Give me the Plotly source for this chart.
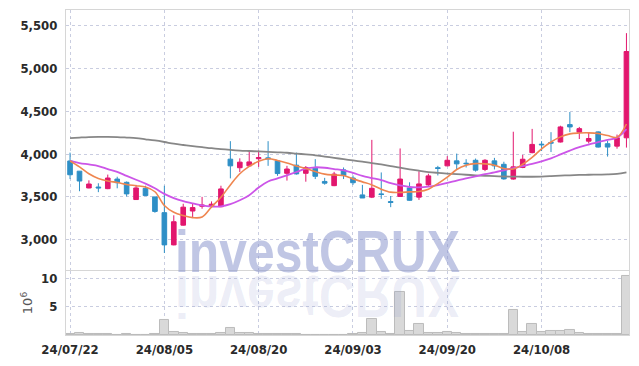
import plotly.graph_objects as go

# ---------------- data ----------------
dates = [
    "2024-07-22", "2024-07-23", "2024-07-24", "2024-07-25", "2024-07-26",
    "2024-07-29", "2024-07-30", "2024-07-31", "2024-08-01", "2024-08-02",
    "2024-08-05", "2024-08-06", "2024-08-07", "2024-08-08", "2024-08-09",
    "2024-08-12", "2024-08-13", "2024-08-14", "2024-08-16", "2024-08-19",
    "2024-08-20", "2024-08-21", "2024-08-22", "2024-08-23", "2024-08-26",
    "2024-08-27", "2024-08-28", "2024-08-29", "2024-08-30", "2024-09-02",
    "2024-09-03", "2024-09-04", "2024-09-05", "2024-09-06", "2024-09-09",
    "2024-09-10", "2024-09-11", "2024-09-12", "2024-09-13", "2024-09-19",
    "2024-09-20", "2024-09-23", "2024-09-24", "2024-09-25", "2024-09-26",
    "2024-09-27", "2024-09-30", "2024-10-02", "2024-10-04", "2024-10-07",
    "2024-10-08", "2024-10-10", "2024-10-11", "2024-10-14", "2024-10-15",
    "2024-10-16", "2024-10-17", "2024-10-18", "2024-10-21", "2024-10-22",
]
opens = [3919, 3800, 3604, 3615, 3596, 3708, 3670, 3469, 3600, 3500,
         3316, 2940, 3170, 3335, 3390, 3395, 3385, 3940, 3840, 3862,
         3945, 3955, 3920, 3775, 3870, 3775, 3835, 3680, 3631, 3815,
         3720, 3523, 3497, 3535, 3445, 3505, 3605, 3497, 3640, 3840,
         3862, 3920, 3893, 3927, 3820, 3920, 3880, 3708, 3843, 4016,
         4115, 4133, 4140, 4343, 4254, 4150, 4258, 4120, 4092, 4189]
highs = [4016, 3800, 3693, 3659, 3760, 3735, 3680, 3640, 3630, 3500,
         3630, 3285, 3420, 3420, 3500, 3447, 3630, 4150, 3950, 4040,
         4040, 4150, 3925, 3862, 4016, 3860, 3940, 3722, 3792, 3843,
         3750, 3640, 4165, 3785, 3510, 4065, 3670, 3800, 3770, 3862,
         3975, 4005, 3940, 3947, 3940, 3955, 3910, 4260, 3990, 4293,
         4150, 4255, 4330, 4490, 4316, 4254, 4265, 4155, 4227, 5410]
lows = [3708, 3566, 3600, 3555, 3590, 3600, 3505, 3465, 3510, 3315,
        2845, 2935, 3165, 3255, 3362, 3370, 3380, 3716, 3790, 3860,
        3850, 3862, 3746, 3690, 3760, 3677, 3708, 3642, 3625, 3708,
        3640, 3487, 3486, 3477, 3380, 3500, 3455, 3465, 3630, 3750,
        3858, 3820, 3843, 3795, 3800, 3820, 3700, 3700, 3835, 4008,
        4035, 4023, 4135, 4255, 4175, 4123, 4075, 3970, 4062, 4075]
closes = [3758, 3685, 3650, 3605, 3720, 3665, 3535, 3604, 3515, 3330,
          2940, 3210, 3380, 3375, 3405, 3415, 3593, 3862, 3905, 3908,
          3958, 3945, 3772, 3825, 3768, 3843, 3740, 3660, 3766, 3748,
          3665, 3487, 3600, 3528, 3435, 3708, 3460, 3651, 3745, 3832,
          3927, 3885, 3887, 3812, 3927, 3862, 3710, 3850, 3939, 4112,
          4108, 4128, 4316, 4316, 4296, 4181, 4081, 4081, 4189, 5196]
volume_m = [0.2, 0.4, 0.15, 0.15, 0.15, 0.05, 0.2, 0.05, 0.05, 0.2,
            2.6, 0.6, 0.45, 0.2, 0.2, 0.2, 0.4, 1.2, 0.3, 0.4,
            0.2, 0.2, 0.2, 0.15, 0.15, 0.05, 0.03, 0.03, 0.03, 0.03,
            0.15, 0.3, 2.9, 0.6, 0.15, 7.6, 0.8, 2.05, 0.4, 0.4,
            0.6, 0.45, 0.2, 0.2, 0.2, 0.2, 0.2, 4.5, 0.6, 2.05,
            0.6, 0.65, 0.8, 0.95, 0.45, 0.2, 0.2, 0.2, 0.2, 10.5]
ma_short = [3919, 3850, 3770, 3715, 3685, 3668, 3645, 3630, 3615, 3560,
            3400, 3320, 3282, 3258, 3265, 3382, 3495, 3640, 3770, 3855,
            3915, 3945, 3925, 3895, 3860, 3830, 3795, 3765, 3755, 3750,
            3710, 3675, 3640, 3590, 3555, 3552, 3558, 3562, 3590, 3655,
            3730, 3820, 3870, 3888, 3885, 3870, 3830, 3825, 3880, 3960,
            4060, 4140, 4200, 4235, 4245, 4247, 4240, 4215, 4195, 4350]
ma_mid = [3919, 3895, 3878, 3860, 3825, 3792, 3745, 3700, 3655, 3600,
          3535, 3485, 3450, 3425, 3400, 3388, 3390, 3415, 3460, 3520,
          3610, 3680, 3715, 3750, 3790, 3830, 3845, 3840, 3825, 3810,
          3780, 3745, 3720, 3695, 3660, 3635, 3615, 3612, 3620, 3638,
          3662, 3690, 3715, 3740, 3765, 3785, 3810, 3835, 3860, 3885,
          3915, 3950, 3995, 4040, 4080, 4110, 4140, 4165, 4190, 4290]
ma_long = [4185, 4192, 4198, 4200, 4200, 4198, 4192, 4185, 4172, 4158,
           4140, 4120, 4105, 4092, 4080, 4068, 4058, 4048, 4040, 4035,
           4030, 4025, 4020, 4015, 4005, 3995, 3985, 3970, 3955, 3940,
           3925, 3910, 3895, 3878, 3860, 3840, 3822, 3805, 3790, 3780,
           3772, 3765, 3758, 3752, 3746, 3742, 3738, 3736, 3735, 3735,
           3737, 3742, 3748, 3752, 3756, 3758, 3760, 3762, 3768, 3785]
tick_dates = ["2024-07-22", "2024-08-05", "2024-08-20",
              "2024-09-03", "2024-09-20", "2024-10-08"]
tick_labels = ["24/07/22", "24/08/05", "24/08/20",
               "24/09/03", "24/09/20", "24/10/08"]
price_ticks = [3000, 3500, 4000, 4500, 5000, 5500]
volume_ticks = [5, 10]

# ---------------- style ----------------
UP = "#e2176e"
DOWN = "#2e8fc6"
GRID = "#c9cde0"
FRAME = "#d6d6d6"
TICKFONT = dict(family="DejaVu Sans Condensed, sans-serif",
                size=13, color="#2a2a2a", weight="bold")

fig = go.Figure()
fig.add_trace(go.Candlestick(
    x=dates, open=opens, high=highs, low=lows, close=closes,
    xaxis="x", yaxis="y", whiskerwidth=0, showlegend=False, hoverinfo="skip",
    increasing=dict(line=dict(color=UP, width=1), fillcolor=UP),
    decreasing=dict(line=dict(color=DOWN, width=1), fillcolor=DOWN),
))
for ys, col, w in [(ma_long, "#878787", 1.8), (ma_mid, "#cc55e8", 1.8), (ma_short, "#ef8650", 1.6)]:
    fig.add_trace(go.Scatter(x=dates, y=ys, mode="lines", xaxis="x", yaxis="y",
                             line=dict(color=col, width=w, shape="spline"),
                             showlegend=False, hoverinfo="skip"))
fig.add_trace(go.Bar(x=dates, y=volume_m, xaxis="x2", yaxis="y2",
                     marker=dict(color="#d9d9d9", line=dict(color="#bcbcbc", width=1)),
                     showlegend=False, hoverinfo="skip"))

xr = [-0.43, 59.27]
common_x = dict(type="category", range=xr, tickvals=tick_dates, showgrid=True,
                gridcolor=GRID, griddash="dot", gridwidth=1, showline=True, mirror=True,
                linecolor=FRAME, linewidth=1, ticks="", zeroline=False)
fig.update_layout(
    width=639, height=366,
    margin=dict(l=66, r=9, t=9, b=28),
    paper_bgcolor="white", plot_bgcolor="white",
    showlegend=False, bargap=0, boxgap=0.3,
    xaxis=dict(common_x, domain=[0, 1], anchor="y", showticklabels=False,
               rangeslider=dict(visible=False)),
    xaxis2=dict(common_x, domain=[0, 1], anchor="y2", ticktext=tick_labels,
                tickfont=TICKFONT, ticklabelstandoff=2),
    yaxis=dict(domain=[0.2, 1], range=[2647, 5680], tickvals=price_ticks,
               tickformat=",", tickfont=TICKFONT, showgrid=True, gridcolor=GRID,
               griddash="dot", showline=True, mirror=True, linecolor=FRAME,
               ticks="", ticklabelstandoff=5, zeroline=False),
    yaxis2=dict(domain=[0, 0.197], range=[0, 11.4], tickvals=volume_ticks,
                tickfont=TICKFONT, showgrid=True, gridcolor=GRID, griddash="dot",
                showline=True, mirror=True, linecolor=FRAME, ticks="",
                ticklabelstandoff=5, zeroline=False,
                title=dict(text="10<sup>6</sup>", standoff=5,
                           font=dict(family="DejaVu Sans", size=13, color="#555"))),
)

WM_FONT = dict(family="Liberation Sans, Arial, sans-serif", size=60, color="rgba(140,152,205,0.55)",
               weight="bold")
WM_FONT2 = dict(WM_FONT, color="rgba(140,152,205,0.18)")
for f in (WM_FONT, WM_FONT2):
    fig.add_annotation(text="investCRUX", xref="paper", yref="paper",
                       x=(175 - 66) / 564, y=(338 - 275 - 13) / 329,
                       xanchor="left", yanchor="bottom", showarrow=False,
                       font=f, borderpad=0)

post = """
(function(){
document.body.style.margin = '0';
document.body.style.padding = '0';
var gd = document.getElementById('{plot_id}');
function fix(){
  var svg = gd.querySelector('svg.main-svg');
  if(!svg) return;
  var sr = svg.getBoundingClientRect();
  [0,1].forEach(function(i){
    var a = gd.querySelector('g.annotation[data-index="'+i+'"]');
    if(!a) return;
    a.removeAttribute('transform');
    var t = a.querySelector('text');
    var r = t.getBoundingClientRect();
    var left = r.left - sr.left, w = r.width;
    var sx = (460 - 175) / w;
    var tx = 175 - sx*left;
    if(i===0){ a.setAttribute('transform','matrix('+sx+',0,0,1,'+tx+',0)'); }
    else { a.setAttribute('transform','matrix('+sx+',0,0,-1,'+tx+','+(2*274)+')'); }
  });
}
fix();
gd.on('plotly_afterplot', fix);
})();
"""
fig.write_html("out.html", post_script=post, config={"displayModeBar": False})
